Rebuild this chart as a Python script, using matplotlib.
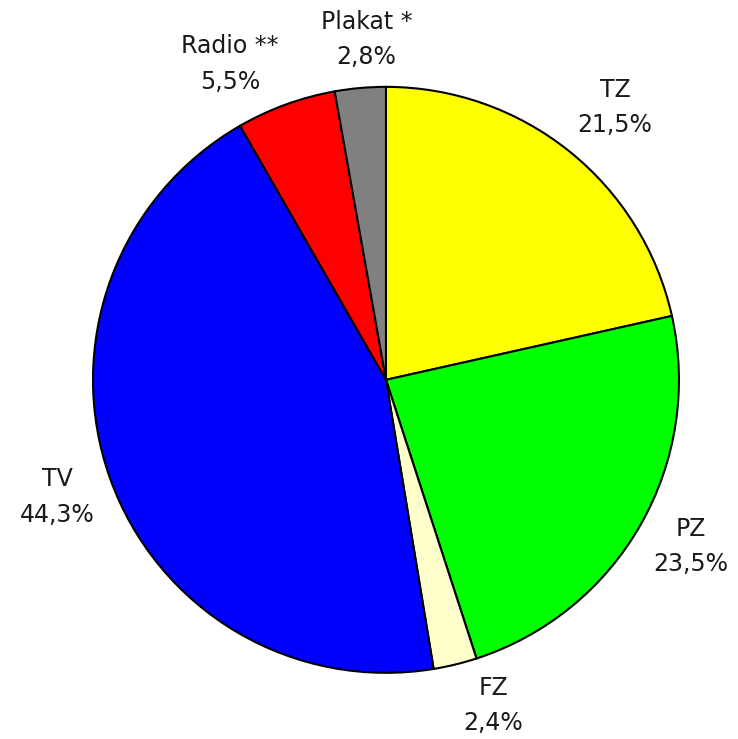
import matplotlib.pyplot as plt

# Anteile der Werbetraeger (in %), im Uhrzeigersinn ab 12 Uhr
labels = ["TZ", "PZ", "FZ", "TV", "Radio **", "Plakat *"]
shares = [21.5, 23.5, 2.4, 44.3, 5.5, 2.8]
share_text = ["21,5%", "23,5%", "2,4%", "44,3%", "5,5%", "2,8%"]
colors = ["#ffff00", "#00ff00", "#ffffcc", "#0000ff", "#ff0000", "#808080"]

# kleine Verschiebung der Beschriftungen (Pixel, x nach rechts, y nach unten)
nudge = [(11, 0), (2, -6), (25, -13), (0, 0), (-37, 12), (11, 7)]

fig = plt.figure(figsize=(7.38, 7.39), dpi=100)
ax = fig.add_axes([0.126, 0.0895, 0.794, 0.793])

wedges, texts = ax.pie(
    shares,
    labels=[f"{l}\n{s}" for l, s in zip(labels, share_text)],
    colors=colors,
    startangle=90,
    counterclock=False,
    labeldistance=1.19,
    wedgeprops=dict(edgecolor="black", linewidth=1.5),
    textprops=dict(fontsize=17, color="#1a1a1a", family="DejaVu Sans"),
)
r_px = 293.0
for t, (nx, ny) in zip(texts, nudge):
    x, y = t.get_position()
    t.set_position((x + nx / r_px, y - ny / r_px))
    t.set_ha("center")
    t.set_va("center")
    t.set_linespacing(1.6)

ax.set_xlim(-1, 1)
ax.set_ylim(-1, 1)
ax.set_aspect("equal")

fig.savefig("out.png", dpi=100)
